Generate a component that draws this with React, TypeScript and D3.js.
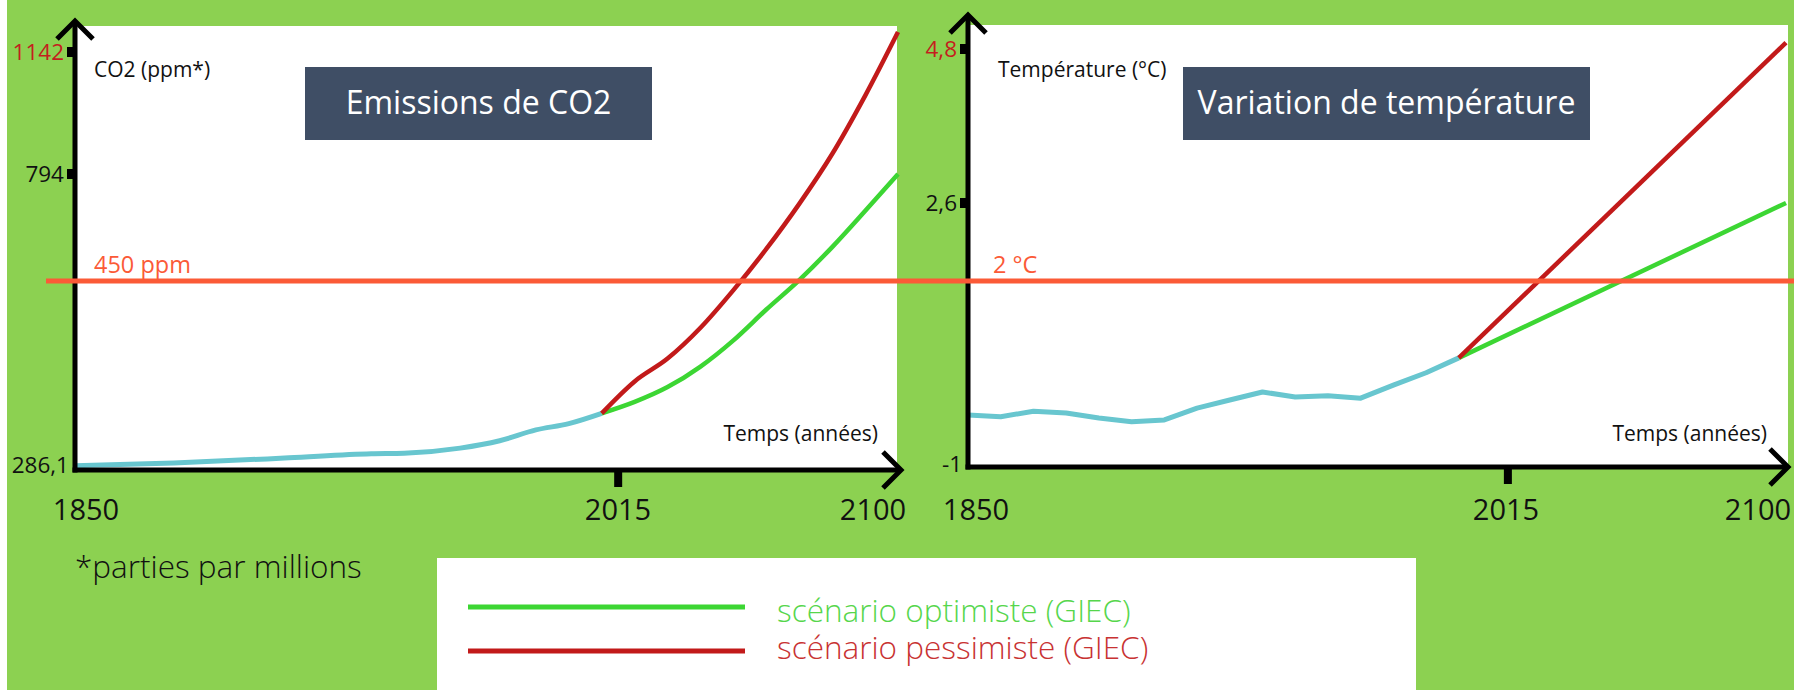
import React from 'react';
import * as d3 from 'd3';

// ---------- Data ----------
const yearTicks = [1850, 2015, 2100];

const co2HistYears = [1850, 1880, 1915, 1940, 1950, 1967, 1979, 1990, 2000, 2010];
const co2Hist = [288, 290.5, 295, 298.5, 299, 303.5, 310, 319.5, 325, 334];
const co2ScenYears = [2010, 2020, 2030, 2040, 2050, 2060, 2070, 2080, 2090, 2100];
const co2Optimiste = [334, 344, 357, 375, 398, 425, 453, 559, 675, 794];
const co2Pessimiste = [334, 362, 382, 409, 442, 553, 698, 851, 1017, 1199];
const co2Ticks = [286.1, 794, 1142];
const co2TickLabels = ['286,1', '794', '1142'];
const co2Threshold = 450;
const co2ThresholdLabel = '450 ppm';

const tempHistYears = [1850, 1860, 1870, 1880, 1890, 1900, 1910, 1920, 1930, 1940, 1950, 1960, 1970, 1980, 1990, 2000];
const tempHist = [-0.16, -0.19, -0.1, -0.13, -0.21, -0.27, -0.24, -0.05, 0.08, 0.21, 0.13, 0.15, 0.11, 0.32, 0.52, 0.76];
const tempScenYears = [2000, 2100];
const tempOptimiste = [0.76, 2.6];
const tempPessimiste = [0.76, 4.89];
const tempTicks = [-1, 2.6, 4.8];
const tempTickLabels = ['-1', '2,6', '4,8'];
const tempThreshold = 2;
const tempThresholdLabel = '2 °C';

const legendLabels = ['scénario optimiste (GIEC)', 'scénario pessimiste (GIEC)'];

// ---------- Styles ----------
const FONT = "'Open Sans', sans-serif";
const C = {
  bg: '#8cd151',
  title: '#3f4e65',
  hist: '#68c6cf',
  opt: '#3cd633',
  pess: '#c21a1a',
  thr: '#fb5a37',
  redLabel: '#c41e1e',
  legOpt: '#56d64c',
  legPess: '#c83232',
};

type PanelProps = {
  x: d3.ScaleLinear<number, number>;
  y: d3.ScaleLinear<number, number>;
  histYears: number[];
  hist: number[];
  scenYears: number[];
  opt: number[];
  pess: number[];
  ticks: number[];
  tickLabels: string[];
  axisY: number;
  arrowTop: number;
  arrowRight: number;
  panelRight: number;
  panelTop: number;
  curve: d3.CurveFactory;
  yTitle: string;
  yTitleX: number;
  title: string;
  titleBox: [number, number];
  thrLabel: string;
  thrLabelX: number;
  tempsRight: number;
  yearLabelX: number[];
};

function Panel(p: PanelProps) {
  const ax = p.x(1850);
  const line = d3
    .line<[number, number]>()
    .x((d) => p.x(d[0]))
    .y((d) => p.y(d[1]))
    .curve(p.curve);
  const hist = line(p.histYears.map((yr, i) => [yr, p.hist[i]]));
  const opt = line(p.scenYears.map((yr, i) => [yr, p.opt[i]]));
  const pess = line(p.scenYears.map((yr, i) => [yr, p.pess[i]]));
  const top = p.ticks[p.ticks.length - 1];
  return (
    <g>
      <rect x={ax + 2} y={p.panelTop} width={p.panelRight - ax - 2} height={p.axisY - p.panelTop} fill="#fff" />
      <rect x={p.titleBox[0]} y={67} width={p.titleBox[1] - p.titleBox[0]} height={73} fill={C.title} />
      <text
        x={(p.titleBox[0] + p.titleBox[1]) / 2}
        y={114}
        textAnchor="middle"
        fontFamily={FONT}
        fontSize={32}
        fill="#fff"
      >
        {p.title}
      </text>
      <text x={p.yTitleX} y={77} fontFamily={FONT} fontSize={21} fill="#111">
        {p.yTitle}
      </text>
      <text x={p.thrLabelX} y={273} fontFamily={FONT} fontSize={23.5} fill={C.thr}>
        {p.thrLabel}
      </text>
      <text x={p.tempsRight} y={441} textAnchor="end" fontFamily={FONT} fontSize={21} fill="#111">
        Temps (années)
      </text>
      <path d={hist || ''} fill="none" stroke={C.hist} strokeWidth={5} strokeLinejoin="round" />
      <path d={opt || ''} fill="none" stroke={C.opt} strokeWidth={4.5} strokeLinejoin="round" />
      <path d={pess || ''} fill="none" stroke={C.pess} strokeWidth={4.5} strokeLinejoin="round" />
      {/* axes */}
      <line x1={ax} y1={p.axisY + 2.5} x2={ax} y2={p.arrowTop + 2} stroke="#000" strokeWidth={5} />
      <polyline
        points={`${ax - 18},${p.arrowTop + 19} ${ax},${p.arrowTop + 1} ${ax + 18},${p.arrowTop + 19}`}
        fill="none"
        stroke="#000"
        strokeWidth={5}
      />
      <line x1={ax - 2.5} y1={p.axisY} x2={p.arrowRight - 2} y2={p.axisY} stroke="#000" strokeWidth={5} />
      <polyline
        points={`${p.arrowRight - 19},${p.axisY - 18} ${p.arrowRight - 1},${p.axisY} ${p.arrowRight - 19},${p.axisY + 18}`}
        fill="none"
        stroke="#000"
        strokeWidth={5}
      />
      {/* y ticks */}
      {p.ticks.map((t, i) => (
        <g key={t}>
          {i > 0 && <rect x={ax - 8} y={p.y(t) - 5} width={7} height={10} fill="#000" />}
          <text
            x={ax - (i === 0 ? 6 : 11)}
            y={p.y(t) + (i === 0 ? 5 : 8)}
            textAnchor="end"
            fontFamily={FONT}
            fontSize={22.5}
            fill={t === top ? C.redLabel : '#111'}
          >
            {p.tickLabels[i]}
          </text>
        </g>
      ))}
      {/* x ticks */}
      <rect x={p.x(2015) - 4} y={p.axisY} width={8} height={17} fill="#000" />
      {yearTicks.map((yr, i) => (
        <text key={yr} x={p.yearLabelX[i]} y={520} textAnchor="middle" fontFamily={FONT} fontSize={29} fill="#111">
          {yr}
        </text>
      ))}
    </g>
  );
}

export default function App() {
  const xCO2 = d3.scaleLinear().domain([1850, 2100]).range([75, 898]);
  const yCO2 = d3.scaleLinear().domain([286.1, co2Threshold, 794, 1142]).range([468, 281, 174, 52]);
  const xTemp = d3.scaleLinear().domain([1850, 2100]).range([968, 1786]);
  const yTemp = d3.scaleLinear().domain([-1, tempThreshold, 2.6, 4.8]).range([467, 281, 203, 49]);

  return (
    <svg
      width={1794}
      height={690}
      style={{ position: 'absolute', left: 0, top: 0, display: 'block' }}
    >
      <rect x={0} y={0} width={1794} height={690} fill="#fff" />
      <rect x={7} y={0} width={1787} height={690} fill={C.bg} />
      <Panel
        x={xCO2}
        y={yCO2}
        histYears={co2HistYears}
        hist={co2Hist}
        scenYears={co2ScenYears}
        opt={co2Optimiste}
        pess={co2Pessimiste}
        ticks={co2Ticks}
        tickLabels={co2TickLabels}
        axisY={470}
        arrowTop={20}
        arrowRight={902}
        panelRight={897}
        panelTop={26}
        curve={d3.curveMonotoneX}
        yTitle="CO2 (ppm*)"
        yTitleX={94}
        title="Emissions de CO2"
        titleBox={[305, 652]}
        thrLabel={co2ThresholdLabel}
        thrLabelX={94}
        tempsRight={878}
        yearLabelX={[86, 618, 873]}
      />
      <Panel
        x={xTemp}
        y={yTemp}
        histYears={tempHistYears}
        hist={tempHist}
        scenYears={tempScenYears}
        opt={tempOptimiste}
        pess={tempPessimiste}
        ticks={tempTicks}
        tickLabels={tempTickLabels}
        axisY={467}
        arrowTop={14}
        arrowRight={1789}
        panelRight={1788}
        panelTop={25}
        curve={d3.curveLinear}
        yTitle="Température (°C)"
        yTitleX={998}
        title="Variation de température"
        titleBox={[1183, 1590]}
        thrLabel={tempThresholdLabel}
        thrLabelX={993}
        tempsRight={1767}
        yearLabelX={[976, 1506, 1758]}
      />
      {/* threshold line across both panels */}
      <line
        x1={46}
        x2={1794}
        y1={yCO2(co2Threshold)}
        y2={yTemp(tempThreshold)}
        stroke={C.thr}
        strokeWidth={5}
      />
      {/* footnote */}
      <text x={75} y={578} fontFamily={FONT} fontSize={31.5} fontWeight={300} fill="#111">
        *parties par millions
      </text>
      {/* legend */}
      <rect x={437} y={558} width={979} height={132} fill="#fff" />
      <line x1={468} x2={745} y1={607} y2={607} stroke={C.opt} strokeWidth={5} />
      <line x1={468} x2={745} y1={651} y2={651} stroke={C.pess} strokeWidth={5} />
      <text x={777} y={622} fontFamily={FONT} fontSize={31.5} fontWeight={300} fill={C.legOpt}>
        {legendLabels[0]}
      </text>
      <text x={777} y={659} fontFamily={FONT} fontSize={31.5} fontWeight={300} fill={C.legPess}>
        {legendLabels[1]}
      </text>
    </svg>
  );
}
